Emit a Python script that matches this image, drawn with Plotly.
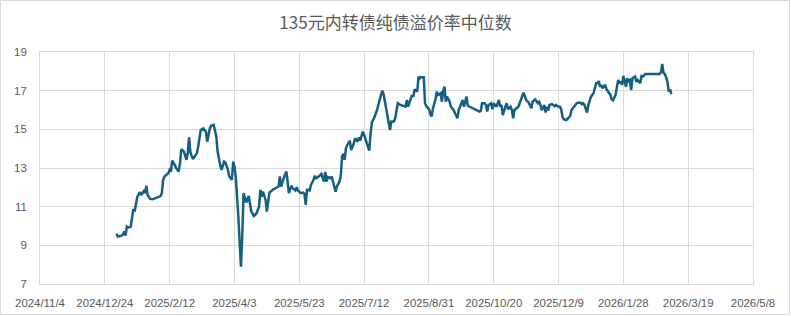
import plotly.graph_objects as go

title_text = "135元内转债纯债溢价率中位数"

dates = [
    "2025-01-02", "2025-01-03", "2025-01-06", "2025-01-07", "2025-01-08", "2025-01-09", "2025-01-10", "2025-01-11",
    "2025-01-13", "2025-01-14", "2025-01-15", "2025-01-16", "2025-01-17", "2025-01-18", "2025-01-20", "2025-01-21",
    "2025-01-23", "2025-01-24", "2025-01-25", "2025-01-26", "2025-01-28", "2025-01-30",
    "2025-02-05", "2025-02-06", "2025-02-07", "2025-02-08", "2025-02-11", "2025-02-12", "2025-02-13", "2025-02-14",
    "2025-02-16", "2025-02-17", "2025-02-19", "2025-02-20", "2025-02-21", "2025-02-23", "2025-02-25", "2025-02-26",
    "2025-02-27", "2025-02-28",
    "2025-03-02", "2025-03-04", "2025-03-05", "2025-03-06", "2025-03-08", "2025-03-10", "2025-03-12", "2025-03-13",
    "2025-03-15", "2025-03-16", "2025-03-18", "2025-03-20", "2025-03-21", "2025-03-23", "2025-03-24", "2025-03-26",
    "2025-03-27", "2025-03-29", "2025-03-30",
    "2025-04-01", "2025-04-02", "2025-04-03", "2025-04-04", "2025-04-06", "2025-04-08", "2025-04-09", "2025-04-10",
    "2025-04-12", "2025-04-14", "2025-04-16", "2025-04-18", "2025-04-20", "2025-04-22", "2025-04-23", "2025-04-24",
    "2025-04-25", "2025-04-27", "2025-04-28", "2025-04-30",
    "2025-05-03", "2025-05-06", "2025-05-07", "2025-05-08", "2025-05-09", "2025-05-11", "2025-05-13", "2025-05-14",
    "2025-05-15", "2025-05-17", "2025-05-18", "2025-05-20", "2025-05-21", "2025-05-22", "2025-05-24", "2025-05-26",
    "2025-05-27", "2025-05-28", "2025-05-29", "2025-05-31",
    "2025-06-01", "2025-06-03", "2025-06-04", "2025-06-05", "2025-06-07", "2025-06-09", "2025-06-10", "2025-06-11",
    "2025-06-12", "2025-06-13", "2025-06-14", "2025-06-16", "2025-06-17", "2025-06-20", "2025-06-21", "2025-06-23",
    "2025-06-24", "2025-06-25", "2025-06-26", "2025-06-27", "2025-06-28", "2025-06-29",
    "2025-07-01", "2025-07-02", "2025-07-04", "2025-07-05", "2025-07-07", "2025-07-08", "2025-07-09", "2025-07-11",
    "2025-07-12", "2025-07-14", "2025-07-16", "2025-07-17", "2025-07-18", "2025-07-20", "2025-07-22", "2025-07-24",
    "2025-07-26", "2025-07-27", "2025-07-28", "2025-07-29", "2025-07-30",
    "2025-08-01", "2025-08-02", "2025-08-04", "2025-08-05", "2025-08-06", "2025-08-07", "2025-08-09", "2025-08-11",
    "2025-08-13", "2025-08-14", "2025-08-15", "2025-08-16", "2025-08-18", "2025-08-19", "2025-08-20", "2025-08-22",
    "2025-08-23", "2025-08-24", "2025-08-25", "2025-08-27", "2025-08-28", "2025-08-29", "2025-08-31",
    "2025-09-01", "2025-09-02", "2025-09-03", "2025-09-05", "2025-09-06", "2025-09-07", "2025-09-09", "2025-09-10",
    "2025-09-11", "2025-09-12", "2025-09-13", "2025-09-14", "2025-09-16", "2025-09-17", "2025-09-19", "2025-09-21",
    "2025-09-22", "2025-09-23", "2025-09-25", "2025-09-26", "2025-09-27", "2025-09-28", "2025-09-29", "2025-09-30",
    "2025-10-09", "2025-10-10", "2025-10-11", "2025-10-13", "2025-10-14", "2025-10-15", "2025-10-16", "2025-10-18",
    "2025-10-19", "2025-10-20", "2025-10-22", "2025-10-24", "2025-10-25", "2025-10-26", "2025-10-27", "2025-10-29",
    "2025-10-30", "2025-10-31",
    "2025-11-02", "2025-11-03", "2025-11-04", "2025-11-05", "2025-11-07", "2025-11-08", "2025-11-09", "2025-11-11",
    "2025-11-12", "2025-11-13", "2025-11-14", "2025-11-16", "2025-11-17", "2025-11-18", "2025-11-19", "2025-11-21",
    "2025-11-23", "2025-11-24", "2025-11-25", "2025-11-26", "2025-11-27", "2025-11-28", "2025-11-29", "2025-11-30",
    "2025-12-01", "2025-12-02", "2025-12-04", "2025-12-06", "2025-12-07", "2025-12-08", "2025-12-10", "2025-12-11",
    "2025-12-12", "2025-12-13", "2025-12-15", "2025-12-16", "2025-12-18", "2025-12-19", "2025-12-20", "2025-12-22",
    "2025-12-23", "2025-12-24", "2025-12-26", "2025-12-27", "2025-12-28", "2025-12-29", "2025-12-31",
    "2026-01-01", "2026-01-02", "2026-01-03", "2026-01-05", "2026-01-06", "2026-01-07", "2026-01-08", "2026-01-09",
    "2026-01-10", "2026-01-11", "2026-01-12", "2026-01-14", "2026-01-15", "2026-01-16", "2026-01-18", "2026-01-19",
    "2026-01-20", "2026-01-22", "2026-01-23", "2026-01-24", "2026-01-25", "2026-01-26", "2026-01-27", "2026-01-28",
    "2026-01-30", "2026-01-31",
    "2026-02-01", "2026-02-02", "2026-02-03", "2026-02-04", "2026-02-06", "2026-02-07", "2026-02-08", "2026-02-10",
    "2026-02-11", "2026-02-12", "2026-02-14", "2026-02-25", "2026-02-26", "2026-02-27", "2026-02-28",
    "2026-03-01", "2026-03-02", "2026-03-03", "2026-03-04", "2026-03-05", "2026-03-06",
]

values = [
    9.60, 9.45, 9.50, 9.56, 9.72, 9.50, 9.97, 9.92,
    9.97, 10.32, 10.87, 10.75, 11.18, 11.49, 11.76, 11.60,
    11.80, 11.70, 12.08, 11.60, 11.40, 11.38,
    11.55, 11.70, 12.39, 12.56, 12.73, 12.90, 12.82, 13.38,
    13.15, 13.00, 12.82, 13.24, 13.97, 13.85, 13.42, 13.77,
    14.59, 13.80,
    13.46, 13.63, 13.77, 14.10, 14.97, 15.05, 14.88, 14.36,
    15.05, 15.18, 15.23, 14.62, 13.85, 13.16, 12.90, 13.33,
    13.28, 12.90, 12.56,
    12.39, 13.33, 13.07, 12.56, 10.49, 7.90, 9.45, 11.70,
    11.22, 11.55, 10.75, 10.52, 10.66, 11.00, 11.87, 11.52,
    11.78, 11.35, 10.75, 11.73,
    11.90, 12.04, 12.04, 12.56, 12.04, 12.47, 12.82, 12.30,
    11.70, 12.08, 11.96, 11.84, 12.00, 11.84, 11.70, 11.73,
    11.66, 11.09, 11.87, 11.84,
    12.13, 12.39, 12.60, 12.47, 12.56, 12.70, 12.53, 12.30,
    12.80, 12.30, 12.53, 12.47, 12.56, 11.78, 12.04, 12.30,
    12.60, 13.59, 13.73, 13.42, 14.02, 14.19,
    14.42, 13.93, 14.25, 14.54, 14.36, 14.59, 14.42, 14.88,
    14.71, 14.36, 13.90, 14.80, 15.35, 15.63, 16.00, 16.52,
    17.00, 16.83, 16.43, 16.10, 15.83,
    14.97, 15.40, 15.40, 15.57, 16.09, 16.35, 16.26, 16.20,
    16.17, 16.52, 16.17, 16.38, 16.78, 16.69, 17.07, 16.95,
    17.73, 17.64, 17.70, 17.70, 16.35, 16.20, 16.04,
    15.83, 15.66, 16.05, 16.52, 16.95, 16.78, 16.87, 16.43,
    16.99, 17.21, 16.43, 16.69, 16.43, 16.17, 16.00, 15.74,
    15.57, 16.00, 16.43, 16.52, 16.17, 16.52, 16.69, 16.22,
    15.92, 15.95, 16.35, 16.35, 16.26, 15.92, 16.26, 16.35,
    16.04, 16.35, 16.17, 16.52, 16.17, 16.26, 15.74, 16.17,
    16.35, 16.04,
    16.17, 16.00, 15.57, 16.00, 16.09, 16.17, 16.35, 16.69,
    16.90, 16.72, 16.52, 16.38, 16.26, 16.09, 16.43, 16.55,
    16.35, 16.43, 16.26, 16.00, 16.09, 16.26, 15.87, 16.17,
    15.97, 16.26, 16.30, 16.20, 16.26, 16.20, 16.17, 16.04,
    15.66, 15.52, 15.48, 15.57, 15.69, 16.00, 16.09, 16.30,
    16.35, 16.38, 16.38, 16.30, 16.35, 16.26, 15.87,
    16.26, 16.55, 16.69, 16.87, 17.07, 17.38, 17.38, 17.50,
    17.20, 17.30, 17.12, 17.30, 17.07, 16.95, 16.78, 16.55,
    16.50, 16.78, 17.20, 17.55, 17.38, 17.47, 17.30, 17.76,
    17.20, 17.64,
    17.50, 17.55, 17.03, 17.64, 17.73, 17.47, 17.55, 17.38,
    17.76, 17.73, 17.86, 17.86, 17.97, 18.38, 17.90,
    17.86, 17.69, 17.47, 16.95, 17.07, 16.82,
]

x_range = ["2024-11-04", "2026-05-08"]
y_range = [7, 19]

grid_color = "#d9d9d9"
text_color = "#595959"
line_color = "#156082"

fig = go.Figure()
fig.add_trace(go.Scatter(
    x=dates, y=values, mode="lines",
    line=dict(color=line_color, width=2.5),
    showlegend=False, hoverinfo="x+y",
))

fig.update_layout(
    width=791, height=316,
    margin=dict(l=40, r=38, t=52, b=32),
    paper_bgcolor="white", plot_bgcolor="white",
    title=dict(
        text=title_text, x=0.5, xref="container", xanchor="center",
        y=1 - 23 / 316, yref="container", yanchor="middle",
        font=dict(family="Noto Sans CJK SC", size=17, color=text_color),
    ),
    font=dict(family="Liberation Sans, Arial", size=11.4, color=text_color),
    xaxis=dict(
        type="date", range=x_range,
        tick0=x_range[0], dtick=50 * 86400000,
        tickformat="%Y/%-m/%-d",
        showgrid=True, gridcolor=grid_color, gridwidth=1,
        showline=True, linecolor=grid_color, linewidth=1, mirror=True,
        zeroline=False, ticks="", ticklabelstandoff=8, automargin=False,
        tickfont=dict(size=11.4, color=text_color),
    ),
    yaxis=dict(
        range=y_range, tick0=7, dtick=2,
        showgrid=True, gridcolor=grid_color, gridwidth=1,
        showline=True, linecolor=grid_color, linewidth=1, mirror=True,
        zeroline=False, ticks="", ticklabelstandoff=10, automargin=False,
        tickfont=dict(size=11.4, color=text_color),
    ),
    shapes=[dict(
        type="rect", xref="paper", yref="paper",
        x0=(0.5 - 40) / 713, x1=(789.5 - 40) / 713,
        y0=(284 - 314.5) / 232, y1=(284 - 0.5) / 232,
        line=dict(color=grid_color, width=1), fillcolor="rgba(0,0,0,0)",
        layer="below",
    )],
)

fig.write_html("out.html")
